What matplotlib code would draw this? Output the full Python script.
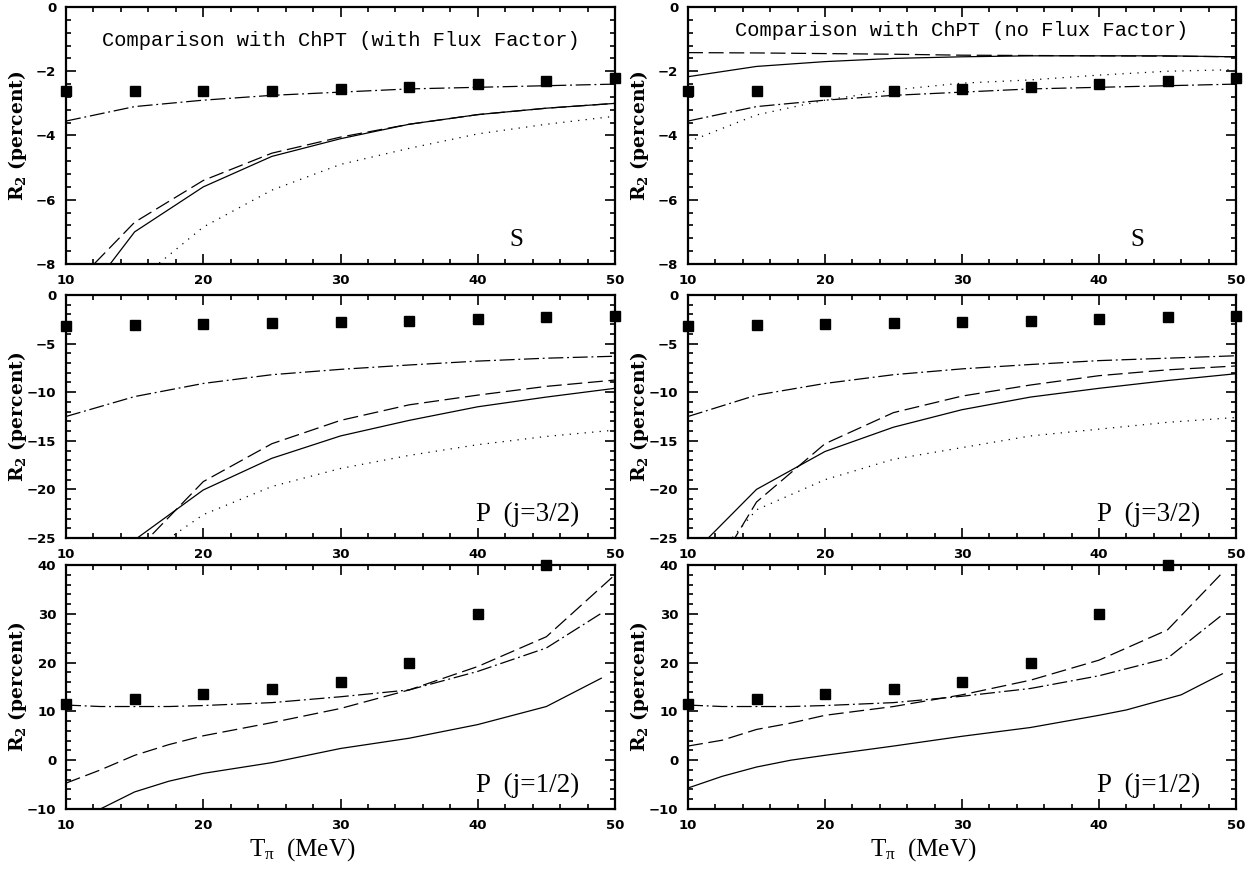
import numpy as np
import matplotlib
matplotlib.use('Agg')
import matplotlib.pyplot as plt
from matplotlib.ticker import MultipleLocator

plt.rcParams['mathtext.fontset'] = 'stix'
plt.rcParams['mathtext.default'] = 'regular'

# experimental points (same in both columns)
T_pts = [10, 15, 20, 25, 30, 35, 40, 45, 50]
S_pts = [-2.6, -2.6, -2.6, -2.6, -2.55, -2.5, -2.4, -2.3, -2.2]
P3_pts = [-3.2, -3.1, -3.0, -2.85, -2.75, -2.65, -2.45, -2.3, -2.2]
T_pts1 = [10, 15, 20, 25, 30, 35, 40, 45]
P1_pts = [11.5, 12.5, 13.5, 14.5, 16.0, 20.0, 30.0, 40.0]

T = [10, 15, 20, 25, 30, 35, 40, 45, 50]

# S wave, with flux factor
S_ff_solid = [-9.8, -7.0, -5.6, -4.65, -4.1, -3.65, -3.35, -3.15, -3.0]
S_ff_dash = [-8.9, -6.7, -5.4, -4.55, -4.05, -3.65, -3.35, -3.15, -3.0]
S_ff_dot = [-11.0, -8.6, -6.85, -5.7, -4.9, -4.4, -3.95, -3.65, -3.4]
S_ff_dashdot = [-3.55, -3.1, -2.9, -2.75, -2.65, -2.55, -2.5, -2.45, -2.4]

# S wave, no flux factor
S_nf_solid = [-2.17, -1.85, -1.7, -1.6, -1.55, -1.52, -1.52, -1.52, -1.55]
S_nf_dash = [-1.42, -1.43, -1.45, -1.47, -1.5, -1.51, -1.52, -1.53, -1.55]
S_nf_dot = [-4.2, -3.36, -2.9, -2.58, -2.37, -2.27, -2.12, -2.0, -1.95]
S_nf_dashdot = [-3.55, -3.1, -2.9, -2.75, -2.65, -2.55, -2.5, -2.45, -2.4]

# P wave j=3/2, with flux factor
P3_ff_solid = [-30.0, -25.2, -20.06, -16.8, -14.5, -12.9, -11.5, -10.5, -9.6]
P3_ff_dash = [-33.7, -26.5, -19.2, -15.3, -12.9, -11.3, -10.3, -9.4, -8.75]
P3_ff_dot = [-33.0, -27.5, -22.6, -19.7, -17.85, -16.5, -15.4, -14.55, -13.9]
P3_ff_dashdot = [-12.5, -10.45, -9.1, -8.2, -7.65, -7.2, -6.8, -6.5, -6.3]

# P wave j=3/2, no flux factor
P3_nf_solid = [-27.1, -20.0, -16.1, -13.6, -11.8, -10.5, -9.6, -8.8, -8.1]
P3_nf_dash = [-33.0, -21.3, -15.3, -12.1, -10.4, -9.26, -8.3, -7.7, -7.3]
P3_nf_dot = [-30.2, -22.1, -19.0, -16.9, -15.7, -14.5, -13.8, -13.1, -12.6]
P3_nf_dashdot = [-12.5, -10.3, -9.1, -8.2, -7.6, -7.15, -6.75, -6.5, -6.25]

# P wave j=1/2, with flux factor
T1 = [10, 12.5, 15, 17.5, 20, 25, 30, 35, 40, 45, 49]
P1_ff_solid = [-12.2, -10.0, -6.5, -4.3, -2.7, -0.5, 2.4, 4.5, 7.3, 11.0, 16.8]
P1_ff_dashdot = [11.3, 11.0, 11.0, 11.0, 11.2, 11.8, 13.0, 14.4, 18.2, 23.0, 30.1]
T1d = [10, 12.5, 15, 17.5, 20, 25, 30, 35, 40, 45, 50]
P1_ff_dash = [-4.7, -2.0, 1.0, 3.2, 5.0, 7.7, 10.6, 14.4, 19.2, 25.3, 38.0]

# P wave j=1/2, no flux factor
T1n = [10, 12.5, 15, 17.5, 20, 25, 30, 35, 40, 42, 46, 49]
P1_nf_solid = [-5.7, -3.3, -1.4, 0.0, 1.0, 2.9, 4.9, 6.7, 9.2, 10.3, 13.4, 17.7]
T1nd = [10, 12.5, 15, 17.5, 20, 25, 30, 35, 40, 45, 49]
P1_nf_dash = [2.9, 4.1, 6.3, 7.6, 9.2, 11.0, 13.4, 16.4, 20.5, 26.7, 38.4]
P1_nf_dashdot = [11.3, 11.0, 11.0, 11.0, 11.2, 11.8, 13.1, 14.7, 17.3, 20.9, 29.8]

DASH = (0, (12, 4.5))
DASHDOT = (0, (12, 3, 1.5, 3))
DOT = (0, (1, 5))

fig = plt.figure(figsize=(12.56, 8.72), dpi=100)
W, H = 1256, 872


def make_ax(x0, x1, y0, y1):
    return fig.add_axes([x0 / W, 1 - y1 / H, (x1 - x0) / W, (y1 - y0) / H])


def style(ax, ylim, ymaj, ymin):
    ax.set_xlim(10, 50)
    ax.set_ylim(*ylim)
    ax.xaxis.set_major_locator(MultipleLocator(10))
    ax.xaxis.set_minor_locator(MultipleLocator(2))
    ax.yaxis.set_major_locator(MultipleLocator(ymaj))
    ax.yaxis.set_minor_locator(MultipleLocator(ymin))
    ax.tick_params(which='both', direction='in', top=True, right=True, width=1.2)
    ax.tick_params(which='major', length=7, pad=7)
    ax.tick_params(which='minor', length=3.5)
    for sp in ax.spines.values():
        sp.set_linewidth(1.6)
    for lab in ax.get_xticklabels() + ax.get_yticklabels():
        lab.set_fontfamily('DejaVu Sans')
        lab.set_fontweight('bold')
        lab.set_fontsize(9.5)
    ax.text(-0.088, 0.5, r'R$_2$ (percent)', transform=ax.transAxes, rotation=90,
            ha='center', va='center', fontsize=13.5, fontweight='bold',
            fontfamily='DejaVu Serif')


def curves(ax, x, solid, dash, dot, dashdot):
    lw = 0.9
    if solid is not None:
        ax.plot(x[0], solid, color='black', lw=lw, ls='-')
    if dash is not None:
        ax.plot(x[1], dash, color='black', lw=lw, ls=DASH)
    if dot is not None:
        ax.plot(x[2], dot, color='black', lw=lw, ls=DOT)
    if dashdot is not None:
        ax.plot(x[3], dashdot, color='black', lw=lw, ls=DASHDOT)


def points(ax, x, y):
    ax.plot(x, y, 's', color='black', ms=7, clip_on=False, zorder=5)


cols = [(66, 615), (688, 1236)]
rows = [(7, 264), (295, 538), (565, 809)]

# row 1: S wave
axL = make_ax(cols[0][0], cols[0][1], *rows[0])
axR = make_ax(cols[1][0], cols[1][1], *rows[0])
curves(axL, [T] * 4, S_ff_solid, S_ff_dash, S_ff_dot, S_ff_dashdot)
curves(axR, [T] * 4, S_nf_solid, S_nf_dash, S_nf_dot, S_nf_dashdot)
for ax in (axL, axR):
    points(ax, T_pts, S_pts)
    style(ax, (-8, 0), 2, 0.4)
    ax.text(0.82, 0.093, 'S', transform=ax.transAxes, ha='center', va='center',
            fontsize=18, fontfamily='Liberation Serif')
axL.text(0.50, 0.87, 'Comparison with ChPT (with Flux Factor)', transform=axL.transAxes,
         ha='center', va='center', fontsize=14.7, fontfamily='Liberation Mono')
axR.text(0.50, 0.91, 'Comparison with ChPT (no Flux Factor)', transform=axR.transAxes,
         ha='center', va='center', fontsize=14.7, fontfamily='Liberation Mono')

# row 2: P wave j=3/2
axL = make_ax(cols[0][0], cols[0][1], *rows[1])
axR = make_ax(cols[1][0], cols[1][1], *rows[1])
curves(axL, [T] * 4, P3_ff_solid, P3_ff_dash, P3_ff_dot, P3_ff_dashdot)
curves(axR, [T] * 4, P3_nf_solid, P3_nf_dash, P3_nf_dot, P3_nf_dashdot)
for ax in (axL, axR):
    points(ax, T_pts, P3_pts)
    style(ax, (-25, 0), 5, 1)
    ax.text(0.84, 0.095, 'P  (j=3/2)', transform=ax.transAxes, ha='center', va='center',
            fontsize=19.5, fontfamily='Liberation Serif')

# row 3: P wave j=1/2
axL = make_ax(cols[0][0], cols[0][1], *rows[2])
axR = make_ax(cols[1][0], cols[1][1], *rows[2])
curves(axL, [T1, T1d, None, T1], P1_ff_solid, P1_ff_dash, None, P1_ff_dashdot)
curves(axR, [T1n, T1nd, None, T1nd], P1_nf_solid, P1_nf_dash, None, P1_nf_dashdot)
for ax in (axL, axR):
    points(ax, T_pts1, P1_pts)
    style(ax, (-10, 40), 10, 2)
    ax.text(0.84, 0.098, 'P  (j=1/2)', transform=ax.transAxes, ha='center', va='center',
            fontsize=19.5, fontfamily='Liberation Serif')
    ax.text(0.43, -0.165, r'T$_\pi$  (MeV)', transform=ax.transAxes, ha='center',
            va='center', fontsize=18, fontfamily='Liberation Serif')

fig.savefig('out.png', dpi=100)
